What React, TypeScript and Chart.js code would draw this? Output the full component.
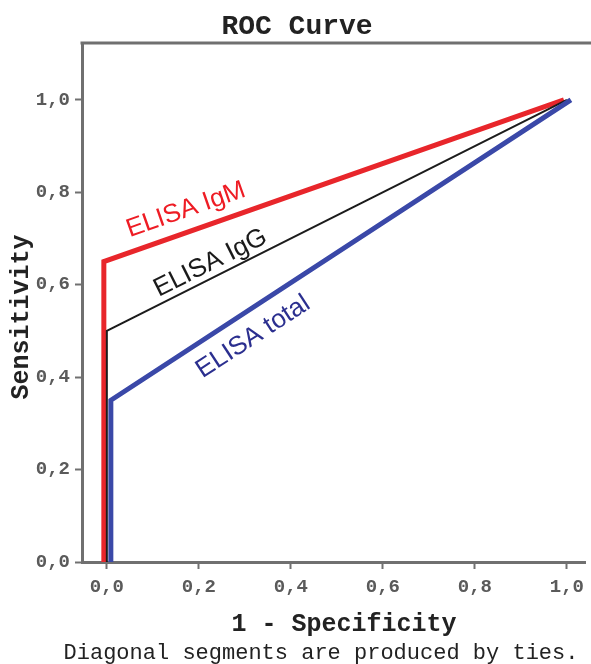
import React, { useEffect, useRef } from 'react';
import { Chart, registerables } from 'chart.js';

Chart.register(...registerables);

// ---- data ----
const seriesNames = ['ELISA IgM', 'ELISA IgG', 'ELISA total'];
const fprIgM = [0, 0, 1];
const tprIgM = [0, 0.65, 1];
const fprIgG = [0, 0, 1];
const tprIgG = [0, 0.5, 1];
const fprTotal = [0, 0, 1];
const tprTotal = [0, 0.35, 1];
const tickValues = [0, 0.2, 0.4, 0.6, 0.8, 1.0];
const tickLabels = ['0,0', '0,2', '0,4', '0,6', '0,8', '1,0'];
const labelX = [0.172, 0.225, 0.318];
const labelY = [0.762, 0.647, 0.487];

const chartTitle = 'ROC Curve';
const xTitle = '1 - Specificity';
const yTitle = 'Sensitivity';
const footnote = 'Diagonal segments are produced by ties.';

// ---- styles ----
const MONO = "'Liberation Mono', 'DejaVu Sans Mono', monospace";
const SANS = "'Liberation Sans', Arial, sans-serif";
const lineColors = ['#e8262b', '#1c1c1c', '#3a48a8'];
const lineWidths = [5, 2, 5];
const textColors = ['#ee1c24', '#1a1a1a', '#2b2f8f'];
const pixelShift = [-3, 0, 4];
const frameColor = '#707070';

const toPoints = (xs: number[], ys: number[]) => xs.map((x, i) => ({ x, y: ys[i] }));

const decorPlugin = {
  id: 'decor',
  beforeDatasetDraw(chart: any, args: any) {
    chart.ctx.save();
    chart.ctx.translate(pixelShift[args.index] || 0, 0);
  },
  afterDatasetDraw(chart: any) {
    chart.ctx.restore();
  },
  beforeDatasetsDraw(chart: any) {
    const { ctx, chartArea } = chart;
    ctx.save();
    ctx.strokeStyle = frameColor;
    ctx.lineWidth = 3;
    ctx.beginPath();
    ctx.moveTo(chartArea.left - 1.5, chartArea.top);
    ctx.lineTo(chart.width, chartArea.top);
    ctx.stroke();
    ctx.restore();
  },
  afterDatasetsDraw(chart: any) {
    const { ctx, scales } = chart;
    ctx.save();
    ctx.font = `26px ${SANS}`;
    ctx.textAlign = 'center';
    ctx.textBaseline = 'middle';
    seriesNames.forEach((name, i) => {
      const meta = chart.getDatasetMeta(i);
      const p1 = meta.data[1];
      const p2 = meta.data[2];
      const ang = Math.atan2(p2.y - p1.y, p2.x - p1.x);
      const px = scales.x.getPixelForValue(labelX[i]);
      const py = scales.y.getPixelForValue(labelY[i]);
      ctx.save();
      ctx.translate(px, py);
      ctx.rotate(ang);
      ctx.fillStyle = textColors[i];
      ctx.fillText(name, 0, 0);
      ctx.restore();
    });
    ctx.restore();
  },
  afterDraw(chart: any) {
    const { ctx } = chart;
    ctx.save();
    ctx.textAlign = 'center';
    ctx.textBaseline = 'middle';
    ctx.fillStyle = '#222';
    ctx.font = `bold 28px ${MONO}`;
    ctx.fillText(chartTitle, 297, 27);
    ctx.font = `bold 25px ${MONO}`;
    ctx.fillText(xTitle, 344, 625);
    ctx.save();
    ctx.translate(22, 317);
    ctx.rotate(-Math.PI / 2);
    ctx.fillText(yTitle, 0, 0);
    ctx.restore();
    ctx.font = `22px ${MONO}`;
    ctx.fillText(footnote, 321, 653);
    ctx.restore();
  },
};

const tickCfg = (padding: number) => ({
  font: { family: MONO, size: 19, weight: 'bold' as const },
  color: '#5a5a5a',
  padding,
  callback: (v: any) => {
    const idx = tickValues.findIndex((t) => Math.abs(t - v) < 1e-9);
    return idx >= 0 ? tickLabels[idx] : '';
  },
});

export default function App() {
  const ref = useRef<HTMLCanvasElement | null>(null);
  useEffect(() => {
    if (!ref.current) return;
    const chart = new Chart(ref.current, {
      type: 'scatter',
      data: {
        datasets: [
          { label: seriesNames[0], data: toPoints(fprIgM, tprIgM) },
          { label: seriesNames[1], data: toPoints(fprIgG, tprIgG) },
          { label: seriesNames[2], data: toPoints(fprTotal, tprTotal) },
        ].map((d, i) => ({
          ...d,
          showLine: true,
          borderColor: lineColors[i],
          backgroundColor: lineColors[i],
          borderWidth: lineWidths[i],
          pointRadius: 0,
          pointHoverRadius: 0,
          tension: 0,
          clip: 4,
          order: [3, 2, 1][i],
        })),
      },
      options: {
        animation: false,
        responsive: false,
        layout: { padding: { top: 43, bottom: 22, left: 0, right: 0 } },
        plugins: {
          legend: { display: false },
          tooltip: { enabled: false },
          title: { display: false },
        },
        scales: {
          x: {
            type: 'linear',
            min: -0.054,
            max: 1.041,
            afterBuildTicks: (s: any) => {
              s.ticks = tickValues.map((v) => ({ value: v }));
            },
            afterFit: (s: any) => {
              s.height = 80;
            },
            ticks: tickCfg(7),
            grid: { display: true, drawOnChartArea: false, drawTicks: true, tickLength: 7, tickWidth: 2, color: frameColor },
            border: { display: true, color: frameColor, width: 3 },
            title: { display: false },
          },
          y: {
            type: 'linear',
            min: 0,
            max: 1.123,
            afterBuildTicks: (s: any) => {
              s.ticks = tickValues.map((v) => ({ value: v }));
            },
            afterFit: (s: any) => {
              s.width = 82;
            },
            ticks: tickCfg(5),
            grid: { display: true, drawOnChartArea: false, drawTicks: true, tickLength: 7, tickWidth: 2, color: frameColor },
            border: { display: true, color: frameColor, width: 3 },
            title: { display: false },
          },
        },
      },
      plugins: [decorPlugin],
    } as any);
    return () => chart.destroy();
  }, []);

  return (
    <div style={{ position: 'absolute', left: 0, top: 0, width: 591, height: 664, background: '#fff' }}>
      <canvas ref={ref} width={591} height={664} style={{ width: 591, height: 664, display: 'block' }} />
    </div>
  );
}
